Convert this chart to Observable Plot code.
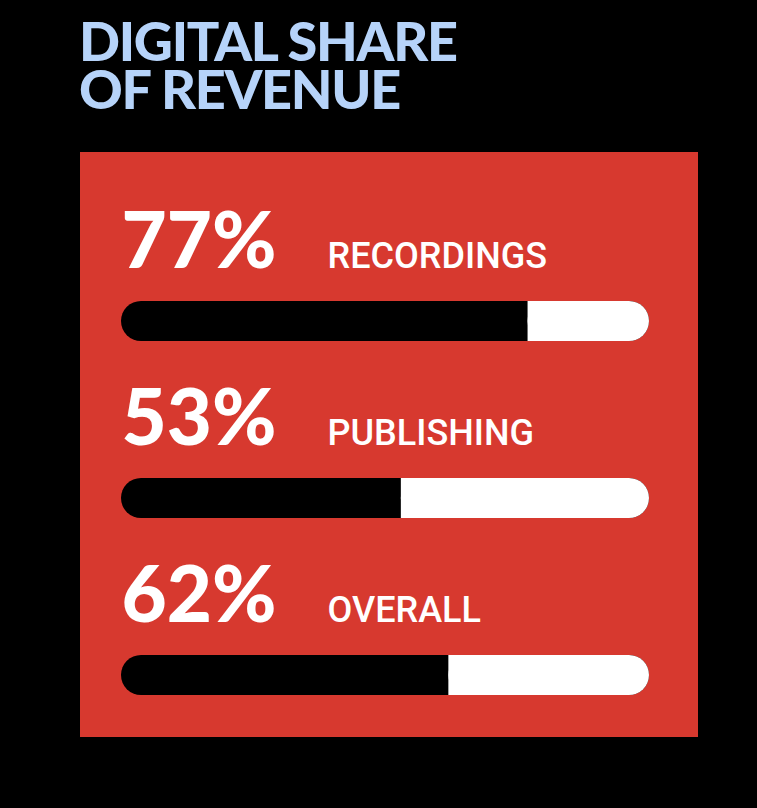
<!DOCTYPE html>
<html><head><meta charset="utf-8">
<script src="https://cdn.jsdelivr.net/npm/d3@7"></script>
<script src="https://cdn.jsdelivr.net/npm/@observablehq/plot@0.6"></script>
<style>
body{margin:0;background:#000;width:757px;height:808px;overflow:hidden;position:relative;font-family:Lato,sans-serif}
.title{position:absolute;left:79px;color:#b6d3f9;font:900 54px/40px Lato;letter-spacing:-1.3px;white-space:nowrap;height:40px}
#panel{position:absolute;left:80px;top:152px;width:618px;height:585px;background:#d7392f}
</style></head><body>
<div class="title" style="top:21px">DIGITAL SHARE</div>
<div class="title" style="top:69px">OF REVENUE</div>
<div id="panel"></div>
<script>
const categories = ["RECORDINGS", "PUBLISHING", "OVERALL"];
const shares = [77, 53, 62];
const data = categories.map((c, i) => ({category: c, share: shares[i]}));
const chart = Plot.plot({
  width: 618, height: 585,
  marginLeft: 41, marginRight: 49, marginTop: 148, marginBottom: 41,
  x: {domain: [0, 100], axis: null},
  y: {domain: categories, axis: null, paddingInner: 0.775, paddingOuter: 0},
  style: {background: "transparent", overflow: "visible"},
  marks: [
    Plot.barX(data, {x1: () => 0, x2: () => 100, y: "category", fill: "#000", rx: 20}),
    Plot.barX(data, {x1: "share", x2: () => 100, y: "category", fill: "#fff", rx: 20}),
    Plot.barX(data, {x1: "share", x2: d => (d.share + 100) / 2, y: "category", fill: "#fff"}),
    Plot.text(data, {x: () => 0, y: "category", text: d => d.share + "%", textAnchor: "start", lineAnchor: "bottom", dy: -54, fontSize: 78, fontWeight: 900, fill: "#fff", fontFamily: "Lato"}),
    Plot.text(data, {x: () => 0, y: "category", text: "category", textAnchor: "start", lineAnchor: "bottom", dy: -54, dx: 206, fontSize: 36, fontWeight: 500, fill: "#fff", fontFamily: "Roboto", letterSpacing: -1.4})
  ]
});
document.getElementById("panel").appendChild(chart);
</script>
</body></html>
